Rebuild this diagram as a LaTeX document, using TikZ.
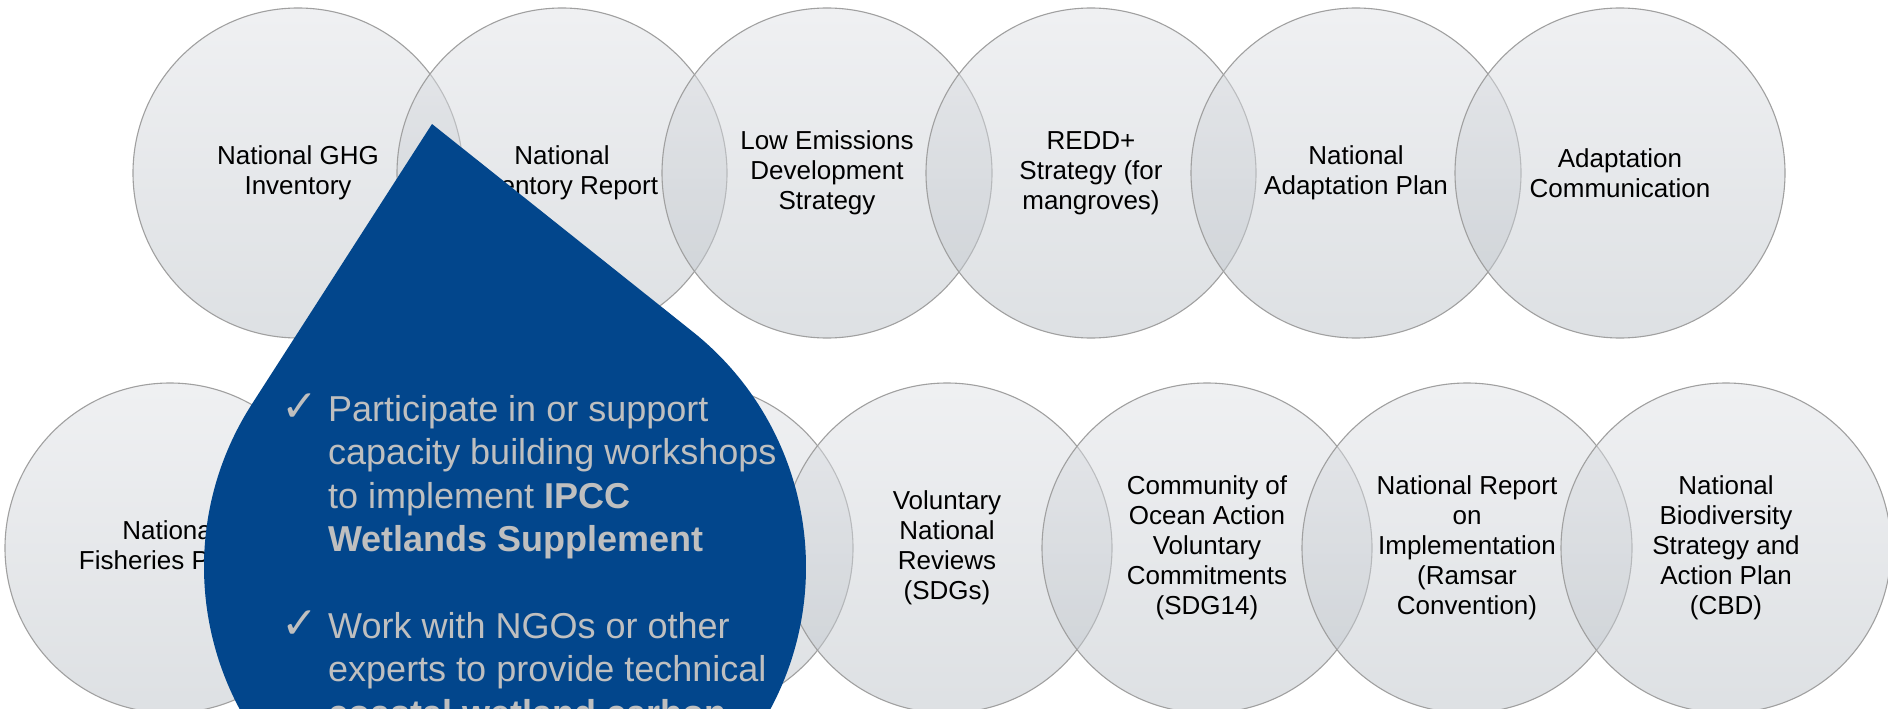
\documentclass[tikz,border=0pt]{standalone}
\usepackage{fontspec}
\setmainfont{Liberation Sans}
\newfontfamily\tickfont{DejaVu Sans}
\usetikzlibrary{calc}

\definecolor{dropblue}{RGB}{2,70,140}
\definecolor{dropgray}{RGB}{191,191,191}
\definecolor{ringgray}{RGB}{160,160,160}
\definecolor{shadetop}{RGB}{225,227,231}
\definecolor{shadebottom}{RGB}{189,195,201}

\tikzset{
  plan/.style={circle, minimum size=330pt, inner sep=0pt, draw=ringgray, line width=1.1pt,
    top color=shadetop, bottom color=shadebottom, fill opacity=0.5, text opacity=1,
    align=center, font=\fontsize{26}{30}\selectfont},
  droptext/.style={text=dropgray, align=left, inner sep=0pt, font=\fontsize{36}{43.5}\selectfont},
  tickmark/.style={text=dropgray, inner sep=0pt, font=\tickfont\fontsize{44}{46}\selectfont}
}

\begin{document}
\begin{tikzpicture}[x=1pt,y=-1pt]
\useasboundingbox (0,0) rectangle (1888,709);
\clip (0,0) rectangle (1888,709);
\fill[white] (0,0) rectangle (1888,709);

% top row
\node[plan] (nghg) at (298,173) {National GHG\\Inventory};
\node[plan] (nir) at (562,173) {National\\Inventory Report};
\node[plan] (leds) at (827,173) {Low Emissions\\Development\\Strategy};
\node[plan] (redd) at (1091,173) {REDD+\\Strategy (for\\mangroves)};
\node[plan] (nap) at (1356,173) {National\\Adaptation Plan};
\node[plan] (adcom) at (1620,173) {Adaptation\\Communication};

% bottom row
\node[plan] (nfish) at (170,548) {National\\Fisheries Policy};
\node[plan] (bhid1) at (429,548) {};
\node[plan] (bhid2) at (688,548) {};
\node[plan] (vnr) at (947,548) {Voluntary\\National\\Reviews\\(SDGs)};
\node[plan] (coa) at (1207,548) {Community of\\Ocean Action\\Voluntary\\Commitments\\(SDG14)};
\node[plan] (ramsar) at (1467,548) {National Report\\on\\Implementation\\(Ramsar\\Convention)};
\node[plan] (nbsap) at (1726,548) {National\\Biodiversity\\Strategy and\\Action Plan\\(CBD)};

% drop
\coordinate (droptip) at (432,124);
\coordinate (dropc) at (505,567);
\fill[dropblue] (droptip) -- ($(dropc)+(-51.5:301)$) arc[start angle=-51.5, end angle=212.8, radius=301] -- cycle;

% drop text
\node[tickmark, anchor=base west] (tick1) at (281,421) {✓};
\node[droptext, anchor=north west] (item1) at (328,395) {Participate in or support\\capacity building workshops\\to implement \textbf{IPCC}\\\textbf{Wetlands Supplement}};
\node[tickmark, anchor=base west] (tick2) at (281,638) {✓};
\node[droptext, anchor=north west] (item2) at (328,612) {Work with NGOs or other\\experts to provide technical\\\textbf{coastal wetland carbon}};
\end{tikzpicture}
\end{document}
